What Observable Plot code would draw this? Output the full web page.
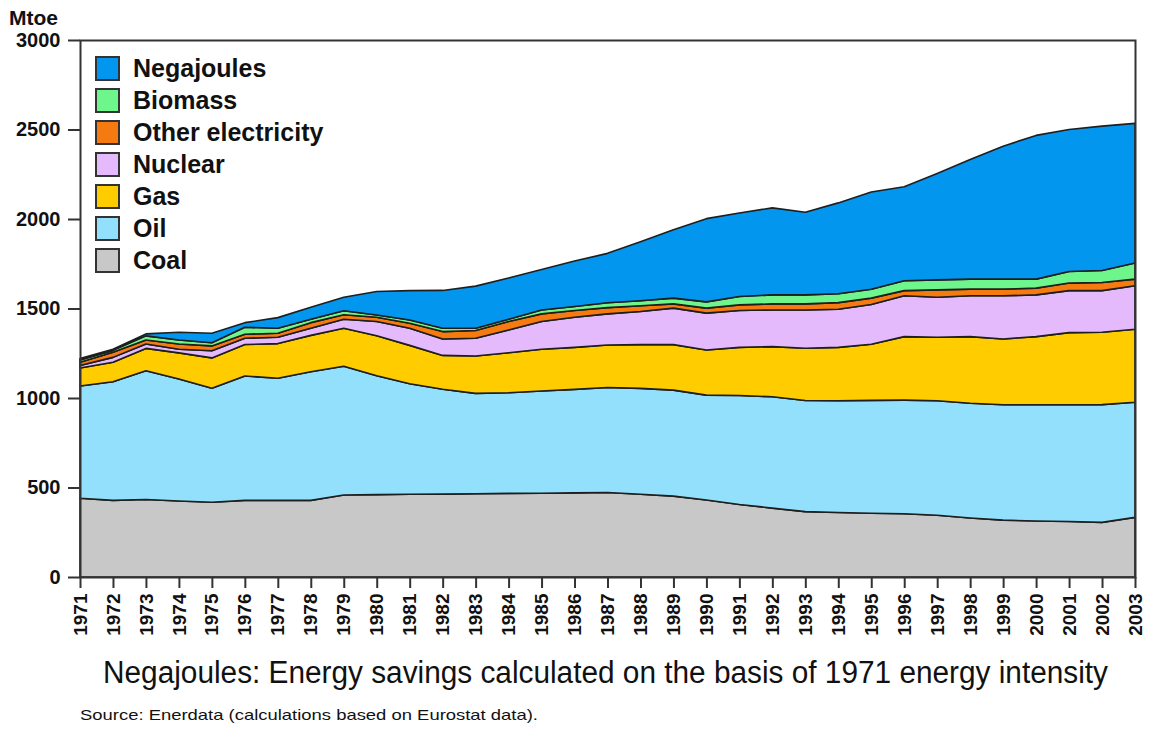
<!DOCTYPE html>
<html><head><meta charset="utf-8">
<script src="https://cdn.jsdelivr.net/npm/d3@7"></script>
<script src="https://cdn.jsdelivr.net/npm/@observablehq/plot@0.6"></script>
<style>
body{margin:0;background:#fff;font-family:"Liberation Sans",Arial,Helvetica,sans-serif;}
#wrap{position:relative;width:1151px;height:729px;background:#fff;overflow:hidden;}
#chart{position:absolute;left:0;top:0;}
#unit{position:absolute;left:9px;top:6px;font-weight:bold;font-size:21px;color:#111;}
#legend{position:absolute;left:95px;top:52px;}
.row{display:flex;align-items:center;height:32px;}
.sw{width:21px;height:21px;border:2px solid #333;margin-right:13px;box-sizing:content-box;}
.lab{font-weight:bold;font-size:25px;color:#111;}
#notes{position:absolute;left:0;top:640px;}
</style></head><body>
<div id="wrap"><div id="chart"></div><div id="unit">Mtoe</div><div id="legend"></div>
<svg id="notes" width="1151" height="89"></svg></div>
<script>
const years = [1971,1972,1973,1974,1975,1976,1977,1978,1979,1980,1981,1982,1983,1984,1985,1986,1987,1988,1989,1990,1991,1992,1993,1994,1995,1996,1997,1998,1999,2000,2001,2002,2003];
const coal = [440,428,433,425,418,428,428,428,458,460,462,463,465,467,468,470,472,462,452,430,405,385,365,360,356,353,345,330,318,313,310,305,333];
const oil = [627,663,719,681,637,695,682,719,719,664,618,586,561,562,571,578,587,592,592,586,609,622,621,625,631,635,640,641,644,649,652,658,643];
const gas = [101,109,125,146,169,176,194,203,213,224,214,189,209,224,233,235,237,244,254,252,269,280,292,298,313,355,354,372,368,381,403,404,408];
const nuclear = [14,27,25,20,40,35,35,40,50,79,96,92,99,127,155,168,174,185,204,206,206,205,214,213,222,228,224,228,241,233,235,233,243];
const otherElectricity = [18,28,22,30,27,22,23,31,25,24,28,41,43,47,43,38,35,32,24,28,31,34,34,37,36,29,41,37,37,38,42,45,37];
const biomass = [12,11,23,22,18,39,28,19,22,13,18,19,13,13,22,22,27,28,32,35,47,50,50,49,50,55,56,56,56,50,65,67,90];
const negajoules = [8,6,11,43,53,26,59,67,76,131,164,211,235,230,226,254,276,330,382,465,467,486,462,508,543,525,594,668,743,803,793,807,780];

const seriesNames = ["Coal","Oil","Gas","Nuclear","Other electricity","Biomass","Negajoules"];
const seriesValues = [coal, oil, gas, nuclear, otherElectricity, biomass, negajoules];
const seriesColors = ["#c8c8c8","#93e0fc","#ffcc00","#e4bafc","#f57a10","#6ef58c","#0396ef"];
const yTicks = [0,500,1000,1500,2000,2500,3000];
const caption = "Negajoules: Energy savings calculated on the basis of 1971 energy intensity";
const source = "Source: Enerdata (calculations based on Eurostat data).";

const data = [];
seriesNames.forEach((s, k) => seriesValues[k].forEach((v, i) => data.push({year: years[i], series: s, value: v})));

const font = '"Liberation Sans", Arial, Helvetica, sans-serif';
const chart = Plot.plot({
  width: 1151, height: 645,
  marginTop: 40, marginLeft: 80, marginRight: 16, marginBottom: 68,
  style: {fontFamily: font, background: "transparent", color: "#111"},
  x: {domain: [1971, 2003]},
  y: {domain: [0, 3000]},
  color: {domain: seriesNames, range: seriesColors},
  marks: [
    Plot.areaY(data, {x: "year", y: "value", z: "series", fill: "series", order: seriesNames,
      stroke: "#1e1e1e", strokeWidth: 1.6, strokeLinejoin: "round"}),
    Plot.frame({stroke: "#333", strokeWidth: 2}),
    Plot.axisY(yTicks, {tickSize: 12, tickPadding: 8, fontSize: 20, fontWeight: "bold",
      stroke: "#333", strokeWidth: 2, label: null, tickFormat: d => String(d)}),
    Plot.axisX(years, {tickSize: 11, tickRotate: -90, tickPadding: 5, fontSize: 19, fontWeight: "bold",
      stroke: "#333", strokeWidth: 2, label: null, tickFormat: d => String(d)})
  ]
});
document.getElementById("chart").appendChild(chart);

const legend = d3.select("#legend");
for (let k = seriesNames.length - 1; k >= 0; k--) {
  const row = legend.append("div").attr("class", "row");
  row.append("div").attr("class", "sw").style("background", seriesColors[k]);
  row.append("div").attr("class", "lab").text(seriesNames[k]);
}

const notes = d3.select("#notes");
notes.append("text").attr("x", 103).attr("y", 43).attr("font-size", 31).attr("fill", "#111")
  .attr("font-family", font).attr("textLength", 1005).attr("lengthAdjust", "spacingAndGlyphs").text(caption);
notes.append("text").attr("x", 80).attr("y", 80).attr("font-size", 15).attr("fill", "#111")
  .attr("font-family", font).attr("textLength", 458).attr("lengthAdjust", "spacingAndGlyphs").text(source);
</script></body></html>
